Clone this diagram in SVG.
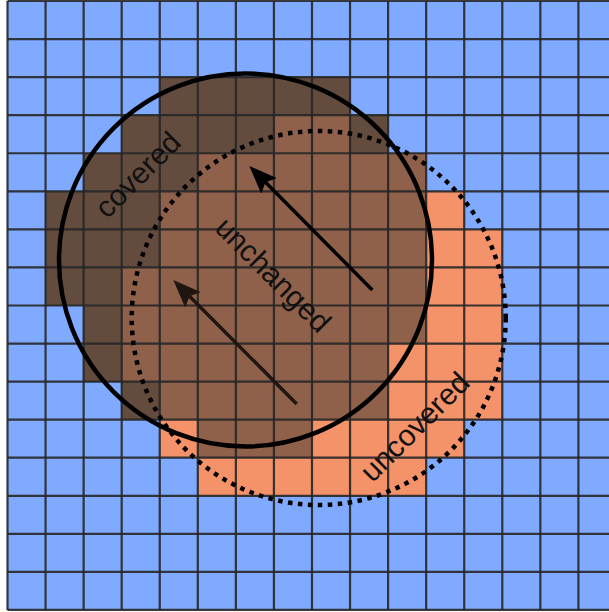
<svg xmlns="http://www.w3.org/2000/svg" width="609" height="612" viewBox="0 0 609 612">
<defs>
<style>
.d{fill:#634b3e}.m{fill:#8f604a}.o{fill:#f4926a}
.lbl{font-family:"Liberation Sans",Arial,sans-serif;font-size:30px;fill:#111;text-anchor:middle}
</style>
<marker id="ah1" markerUnits="userSpaceOnUse" viewBox="0 0 28 22" refX="5" refY="11" markerWidth="28" markerHeight="22" orient="auto"><path d="M0,0 L28,11 L0,22 L5,11 z" fill="#000"/></marker>
<marker id="ah2" markerUnits="userSpaceOnUse" viewBox="0 0 28 22" refX="5" refY="11" markerWidth="28" markerHeight="22" orient="auto"><path d="M0,0 L28,11 L0,22 L5,11 z" fill="#1f1612"/></marker>
</defs>
<rect width="609" height="612" fill="#fff"/>
<g id="cells">
<rect x="7.5" y="1" width="601.5" height="609" fill="#80aaff"/>
<rect class="d" x="159.74" y="77.12" width="190.3" height="38.06"/>
<rect class="d" x="121.68" y="115.18" width="152.24" height="38.06"/>
<rect class="m" x="273.92" y="115.18" width="76.12" height="38.06"/>
<rect class="d" x="350.04" y="115.18" width="38.06" height="38.06"/>
<rect class="d" x="83.62" y="153.24" width="114.18" height="38.06"/>
<rect class="m" x="197.8" y="153.24" width="228.36" height="38.06"/>
<rect class="d" x="45.56" y="191.3" width="114.18" height="76.12"/>
<rect class="m" x="159.74" y="191.3" width="266.42" height="76.12"/>
<rect class="o" x="426.16" y="191.3" width="38.06" height="38.06"/>
<rect class="o" x="426.16" y="229.36" width="76.12" height="38.06"/>
<rect class="d" x="45.56" y="267.42" width="76.12" height="38.06"/>
<rect class="m" x="121.68" y="267.42" width="304.48" height="76.12"/>
<rect class="o" x="426.16" y="267.42" width="76.12" height="76.12"/>
<rect class="d" x="83.62" y="305.48" width="38.06" height="76.12"/>
<rect class="m" x="121.68" y="343.54" width="266.42" height="38.06"/>
<rect class="o" x="388.1" y="343.54" width="114.18" height="76.12"/>
<rect class="d" x="121.68" y="381.6" width="38.06" height="38.06"/>
<rect class="m" x="159.74" y="381.6" width="228.36" height="38.06"/>
<rect class="o" x="159.74" y="419.66" width="38.06" height="38.06"/>
<rect class="m" x="197.8" y="419.66" width="114.18" height="38.06"/>
<rect class="o" x="311.98" y="419.66" width="152.24" height="38.06"/>
<rect class="o" x="197.8" y="457.72" width="228.36" height="38.06"/>
</g>
<g id="grid" stroke="#262626" stroke-width="2.2" stroke-opacity="0.9" fill="none">
<path d="M7.5,1V610M45.56,1V610M83.62,1V610M121.68,1V610M159.74,1V610M197.8,1V610M235.86,1V610M273.92,1V610M311.98,1V610M350.04,1V610M388.1,1V610M426.16,1V610M464.22,1V610M502.28,1V610M540.34,1V610M578.4,1V610"/>
<path d="M7.5,1H609M7.5,39.06H609M7.5,77.12H609M7.5,115.18H609M7.5,153.24H609M7.5,191.3H609M7.5,229.36H609M7.5,267.42H609M7.5,305.48H609M7.5,343.54H609M7.5,381.6H609M7.5,419.66H609M7.5,457.72H609M7.5,495.78H609M7.5,533.84H609M7.5,571.9H609M7.5,609.96H609"/>
</g>
<g id="old-circle"><circle cx="245.5" cy="260" r="186.5" fill="none" stroke="#000" stroke-width="4.5"/></g>
<g id="new-circle"><circle cx="318.7" cy="318" r="187" fill="none" stroke="#000" stroke-width="4.5" stroke-dasharray="4.5 5.5"/></g>
<g id="connectors" stroke-width="3.5" fill="none">
<line x1="372.3" y1="290" x2="265.5" y2="182.3" stroke="#000" marker-end="url(#ah1)"/>
<line x1="296.7" y1="404" x2="189.5" y2="296.3" stroke="#1f1612" marker-end="url(#ah2)"/>
</g>
<g id="labels">
<text class="lbl" transform="translate(145,182) rotate(-45)">covered</text>
<text class="lbl" transform="translate(266,282) rotate(45)">unchanged</text>
<text class="lbl" transform="translate(422,434) rotate(-45)">uncovered</text>
</g>
</svg>
